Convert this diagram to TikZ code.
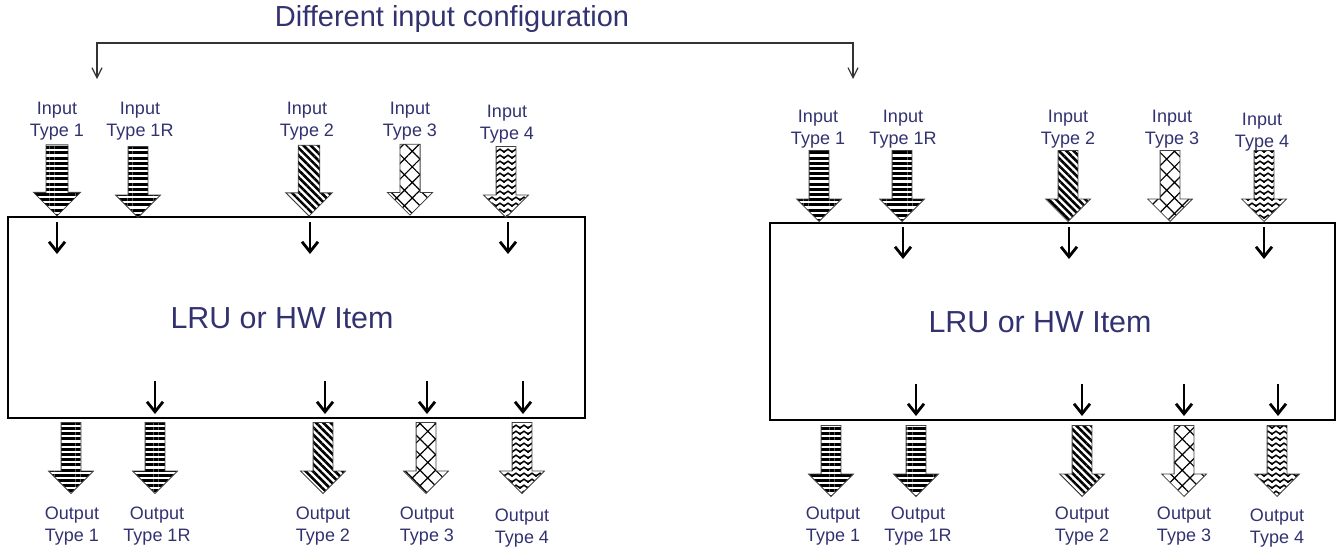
\documentclass[tikz,border=0pt]{standalone}
\usepackage{fontspec}
\setmainfont{Liberation Sans}
\usepackage{tikz}
\usetikzlibrary{arrows.meta}
\usetikzlibrary{shapes.arrows}
\usetikzlibrary{patterns.meta}

\definecolor{labelblue}{RGB}{50,50,112}

\tikzdeclarepattern{
  name=zigzag,
  type=uncolored,
  bounding box={(-.5pt,-1pt) and (4.5pt,3pt)},
  tile size={(4pt,3pt)},
  code={
    \draw[line width=.75pt] (-2pt,1.4pt) -- (0pt,0pt) -- (2pt,1.4pt) -- (4pt,0pt) -- (6pt,1.4pt);
  }
}

\begin{document}
\begin{tikzpicture}[
    x=0.5pt, y=-0.5pt,
    fatarrow/.style={
        single arrow,
        draw=black!75,
        line width=.4pt,
        shape border rotate=270,
        minimum height=35.5pt,
        inner sep=4.75pt,
        single arrow head extend=6.25pt,
        anchor=tip
    },
    type1/.style={pattern={Lines[angle=0,distance=2.6pt,line width=1.5pt]}},
    type2/.style={pattern={Lines[angle=-45,distance=2.6pt,line width=1.3pt]}},
    type3/.style={pattern={Hatch[angle=45,distance=5.5pt,line width=.6pt]}},
    type4/.style={pattern=zigzag},
    lbl/.style={
        align=center,
        text=labelblue,
        font=\fontsize{9}{11}\selectfont,
        inner sep=0pt
    },
    box/.style={draw, line width=.6pt},
    boxtext/.style={text=labelblue, font=\fontsize{15.2}{18}\selectfont},
    flow/.style={line width=1.4pt, -{Straight Barb[length=5pt,width=8pt]}},
    config/.style={line width=.6pt, draw=black!80, <->, >={Straight Barb[length=5pt,width=5pt]}}
]

\useasboundingbox (0,0) rectangle (1338,548);

%---------------------------------
% Title and bracket
%---------------------------------

\node[text=labelblue, font=\fontsize{14.5}{17}\selectfont] (title) at (452,19) {Different input configuration};

\coordinate (cfgL)   at (97,79);
\coordinate (cfgTop) at (475,43);
\coordinate (cfgR)   at (853,79);

\draw[config] (cfgL) |- (cfgTop) -| (cfgR);

%---------------------------------
% Left item
%---------------------------------

% Box
\node[box, minimum width=288.5pt, minimum height=100.5pt] (lruL) at (296.5,317.5) {};
\node[boxtext] (lruLtxt) at (282,318) {LRU or HW Item};

% Input labels
\node[lbl] (inL1lbl)  at (57,121)  {Input\\Type 1};
\node[lbl] (inL1Rlbl) at (140,121) {Input\\Type 1R};
\node[lbl] (inL2lbl)  at (307,121) {Input\\Type 2};
\node[lbl] (inL3lbl)  at (410,121) {Input\\Type 3};
\node[lbl] (inL4lbl)  at (507,124) {Input\\Type 4};

% Input arrows
\node[fatarrow, type1] (inL1)  at (57,218)  {};
\node[fatarrow, type1] (inL1R) at (138,218) {};
\node[fatarrow, type2] (inL2)  at (309,218) {};
\node[fatarrow, type3] (inL3)  at (410,216) {};
\node[fatarrow, type4] (inL4)  at (506,218) {};

% Inner arrows, top
\coordinate (tL1a) at (57,222);  \coordinate (tL1b) at (57,254);
\coordinate (tL2a) at (310,222); \coordinate (tL2b) at (310,254);
\coordinate (tL4a) at (508,222); \coordinate (tL4b) at (508,254);

\draw[flow] (tL1a) -- (tL1b);
\draw[flow] (tL2a) -- (tL2b);
\draw[flow] (tL4a) -- (tL4b);

% Inner arrows, bottom
\coordinate (bL1Ra) at (155,381); \coordinate (bL1Rb) at (155,414);
\coordinate (bL2a)  at (325,381); \coordinate (bL2b)  at (325,414);
\coordinate (bL3a)  at (427,381); \coordinate (bL3b)  at (427,414);
\coordinate (bL4a)  at (523,381); \coordinate (bL4b)  at (523,414);

\draw[flow] (bL1Ra) -- (bL1Rb);
\draw[flow] (bL2a) -- (bL2b);
\draw[flow] (bL3a) -- (bL3b);
\draw[flow] (bL4a) -- (bL4b);

% Output arrows
\node[fatarrow, type1] (outL1)  at (71,494)  {};
\node[fatarrow, type1] (outL1R) at (155,494) {};
\node[fatarrow, type2] (outL2)  at (323,494) {};
\node[fatarrow, type3] (outL3)  at (426,494) {};
\node[fatarrow, type4] (outL4)  at (522,494) {};

% Output labels
\node[lbl] (outL1lbl)  at (72,526)  {Output\\Type 1};
\node[lbl] (outL1Rlbl) at (157,526) {Output\\Type 1R};
\node[lbl] (outL2lbl)  at (323,526) {Output\\Type 2};
\node[lbl] (outL3lbl)  at (427,526) {Output\\Type 3};
\node[lbl] (outL4lbl)  at (522,528) {Output\\Type 4};

%---------------------------------
% Right item
%---------------------------------

% Box
\node[box, minimum width=282.5pt, minimum height=98.5pt] (lruR) at (1052.5,321.5) {};
\node[boxtext] (lruRtxt) at (1040,322) {LRU or HW Item};

% Input labels
\node[lbl] (inR1lbl)  at (818,129)  {Input\\Type 1};
\node[lbl] (inR1Rlbl) at (903,129)  {Input\\Type 1R};
\node[lbl] (inR2lbl)  at (1068,129) {Input\\Type 2};
\node[lbl] (inR3lbl)  at (1172,129) {Input\\Type 3};
\node[lbl] (inR4lbl)  at (1262,132) {Input\\Type 4};

% Input arrows
\node[fatarrow, type1] (inR1)  at (819,222)  {};
\node[fatarrow, type1] (inR1R) at (902,222)  {};
\node[fatarrow, type2] (inR2)  at (1068,222) {};
\node[fatarrow, type3] (inR3)  at (1170,222) {};
\node[fatarrow, type4] (inR4)  at (1264,222) {};

% Inner arrows, top
\coordinate (tR1Ra) at (903,227);  \coordinate (tR1Rb) at (903,259);
\coordinate (tR2a)  at (1069,227); \coordinate (tR2b)  at (1069,259);
\coordinate (tR4a)  at (1264,227); \coordinate (tR4b)  at (1264,259);

\draw[flow] (tR1Ra) -- (tR1Rb);
\draw[flow] (tR2a) -- (tR2b);
\draw[flow] (tR4a) -- (tR4b);

% Inner arrows, bottom
\coordinate (bR1Ra) at (916,384);  \coordinate (bR1Rb) at (916,416);
\coordinate (bR2a)  at (1082,384); \coordinate (bR2b)  at (1082,416);
\coordinate (bR3a)  at (1184,384); \coordinate (bR3b)  at (1184,416);
\coordinate (bR4a)  at (1278,384); \coordinate (bR4b)  at (1278,416);

\draw[flow] (bR1Ra) -- (bR1Rb);
\draw[flow] (bR2a) -- (bR2b);
\draw[flow] (bR3a) -- (bR3b);
\draw[flow] (bR4a) -- (bR4b);

% Output arrows
\node[fatarrow, type1] (outR1)  at (831,497)  {};
\node[fatarrow, type1] (outR1R) at (916,497)  {};
\node[fatarrow, type2] (outR2)  at (1082,497) {};
\node[fatarrow, type3] (outR3)  at (1184,497) {};
\node[fatarrow, type4] (outR4)  at (1277,497) {};

% Output labels
\node[lbl] (outR1lbl)  at (833,526)  {Output\\Type 1};
\node[lbl] (outR1Rlbl) at (918,526)  {Output\\Type 1R};
\node[lbl] (outR2lbl)  at (1082,526) {Output\\Type 2};
\node[lbl] (outR3lbl)  at (1184,526) {Output\\Type 3};
\node[lbl] (outR4lbl)  at (1277,528) {Output\\Type 4};

\end{tikzpicture}
\end{document}
